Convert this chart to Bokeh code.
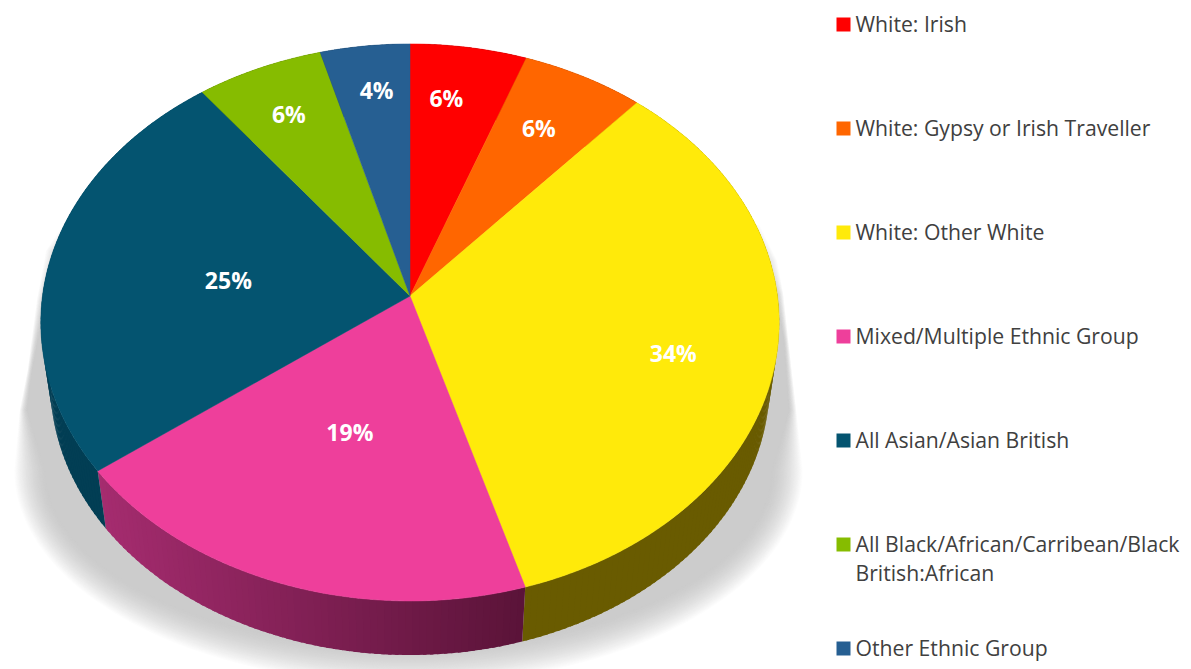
import math
from bokeh.core.properties import value
from bokeh.embed import file_html
from bokeh.models import Range1d
from bokeh.plotting import figure
from bokeh.resources import INLINE

# Share of each group, clockwise from twelve o'clock
groups = [
    "White: Irish",
    "White: Gypsy or Irish Traveller",
    "White: Other White",
    "Mixed/Multiple Ethnic Group",
    "All Asian/Asian British",
    "All Black/African/Carribean/Black\nBritish:African",
    "Other Ethnic Group",
]
shares = [5.6, 5.9, 33.9, 19.4, 24.8, 6.1, 4.3]

top_colors = ["#FF0000", "#FF6600", "#FFEA0A", "#EE3F9B", "#045470", "#86BC00", "#265F92"]
# Rim shading of each slice, left end and right end of the gradient
rim_left = ["#660000", "#662900", "#695B00", "#A52C6F", "#023E54", "#364B00", "#0F263A"]
rim_right = ["#660000", "#662900", "#695B00", "#5A1338", "#023E54", "#364B00", "#0F263A"]

# Nudges of the percentage labels from their slice's radial anchor, in pixels
label_nudge = [(-7, -15), (1, -7), (1, 14), (29, -66), (78, 11), (-10, -14), (0, -22)]
LABEL_RADIUS = 0.72

# Perspective disc: projected with a foreshortening k towards the viewer
CX, CY = 409.5, 295.5
RX, RY, K = 367.5, 276.0, 0.095
RIM_SCALE, RIM_CY = 0.974, 357.5

# Shadow flanks above the floor ellipse: (x, y, softness), from the ellipse upward
SHADOW_LEFT = [(19, 410, 8), (27, 370, 5), (36, 300, 10), (45, 250, 20), (65, 220, 30)]
SHADOW_RIGHT = [(796, 410, 8), (788, 340, 5), (783, 293, 8), (777, 260, 20), (760, 225, 30)]


def project(angle_deg, r=1.0):
    a = math.radians(angle_deg)
    u, v = r * math.sin(a), -r * math.cos(a)
    w = 1 - K * v
    return CX + RX * u / w, CY + RY * v / w


def rim_point(angle_deg):
    x, y = project(angle_deg)
    return CX + (x - CX) * RIM_SCALE, RIM_CY + (y - CY) * RIM_SCALE


def mix(c0, c1, t):
    a = [int(c0[i:i + 2], 16) for i in (1, 3, 5)]
    b = [int(c1[i:i + 2], 16) for i in (1, 3, 5)]
    return "#%02x%02x%02x" % tuple(round(p + (q - p) * t) for p, q in zip(a, b))


total = sum(shares)
edges = [0.0]
for s in shares:
    edges.append(edges[-1] + 360.0 * s / total)

p = figure(
    width=1191, height=669, output_backend="svg", toolbar_location=None,
    x_range=Range1d(0, 1191), y_range=Range1d(669, 0),
    min_border=0, outline_line_color=None, background_fill_color="white",
)
p.xaxis.visible = False
p.yaxis.visible = False
p.grid.visible = False

# Soft drop shadow: opaque nested outlines stepping from white to grey
shadow_xs, shadow_ys, shadow_c = [], [], []
LAYERS = 40
for i in range(LAYERS):
    t = i / (LAYERS - 1)
    ease = 1 - (1 - t) ** 1.6
    ax = 395 - 32 * t
    ay = 215 - 38 * t
    xs = [x - soft * t for x, _, soft in reversed(SHADOW_RIGHT)]
    ys = [y for _, y, _ in reversed(SHADOW_RIGHT)]
    for d in range(0, 181, 2):
        a = math.radians(d)
        xs.append(408 + ax * math.cos(a))
        ys.append(470 + ay * math.sin(a))
    xs += [x + soft * t for x, _, soft in SHADOW_LEFT]
    ys += [y for _, y, _ in SHADOW_LEFT]
    shadow_xs.append(xs)
    shadow_ys.append(ys)
    shadow_c.append(mix("#FFFFFF", "#CCCCCC", ease))
p.patches(shadow_xs, shadow_ys, fill_color=shadow_c, line_color=None)

# Side wall: short quads running along the rim, each lapping under the next
# so no seams show through the shading
wall_xs, wall_ys, wall_c = [], [], []
x_left, x_right = project(edges[4])[0], project(edges[3])[0]
span = x_right - x_left
for i, (a0, a1) in enumerate(zip(edges[:-1], edges[1:])):
    steps = max(2, int(a1 - a0))
    for j in range(steps):
        b0 = a0 + (a1 - a0) * j / steps
        b1 = a0 + (a1 - a0) * (j + 1.5) / steps if j < steps - 1 else a1
        t0, t1 = project(b0), project(b1)
        r0, r1 = rim_point(b0), rim_point(b1)
        wall_xs.append([t0[0], t1[0], r1[0], r0[0]])
        wall_ys.append([t0[1], t1[1], r1[1], r0[1]])
        frac = min(1.0, max(0.0, ((t0[0] + t1[0]) / 2 - x_left) / span))
        wall_c.append(mix(rim_left[i], rim_right[i], frac))
p.patches(wall_xs, wall_ys, fill_color=wall_c, line_color=None)

# Top face
top_xs, top_ys = [], []
for a0, a1 in zip(edges[:-1], edges[1:]):
    steps = max(4, int(a1 - a0))
    pts = [project(a0 + (a1 - a0) * j / steps) for j in range(steps + 1)]
    top_xs.append([CX] + [q[0] for q in pts])
    top_ys.append([CY] + [q[1] for q in pts])
p.patches(top_xs, top_ys, fill_color=top_colors, line_color=top_colors, line_width=0.5)

# Percentage labels
lab_x, lab_y, lab_t = [], [], []
for s, a0, a1, (dx, dy) in zip(shares, edges[:-1], edges[1:], label_nudge):
    x, y = project((a0 + a1) / 2, LABEL_RADIUS)
    lab_x.append(x + dx)
    lab_y.append(y + dy)
    lab_t.append(f"{round(100 * s / total)}%")
p.text(lab_x, lab_y, text=lab_t, text_color="white", text_font=value("Open Sans"),
       text_font_style="bold", text_font_size="23px",
       text_align="center", text_baseline="middle")

# Legend column
KEY_X, KEY_SIZE, LABEL_X = 843, 14, 855
FIRST_ROW, ROW_STEP, LINE_STEP = 24, 104, 29
key_x, key_y, row_x, row_y, row_t = [], [], [], [], []
for i, name in enumerate(groups):
    yc = FIRST_ROW + ROW_STEP * i
    key_x.append(KEY_X)
    key_y.append(yc)
    for n, line in enumerate(name.split("\n")):
        row_x.append(LABEL_X)
        row_y.append(yc - 1 + LINE_STEP * n)
        row_t.append(line)
p.rect(key_x, key_y, width=KEY_SIZE, height=KEY_SIZE, fill_color=top_colors, line_color=None)
p.text(row_x, row_y, text=row_t, text_color="#404040", text_font=value("Open Sans"),
       text_font_size="21.2px", text_align="left", text_baseline="middle")

open("out.html", "w").write(file_html(p, INLINE))
